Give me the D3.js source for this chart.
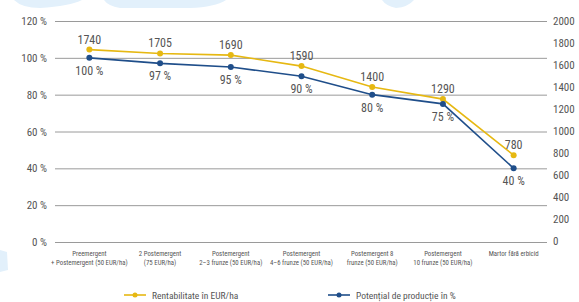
<!doctype html>
<html lang="ro">
  <head>
    <meta charset="utf-8">
    <title>Rentabilitate si potential de productie</title>
    <style>
      body { margin: 0; background: #fff; }
      svg text { font-family: "Liberation Sans Narrow", "Roboto Condensed", "Liberation Sans", Arial, sans-serif; fill: #555; }
    </style>
  </head>
  <body>
    <div id="chart"></div>
    <script src="https://cdn.jsdelivr.net/npm/d3@7"></script>
    <script>
      const categories = [
        ['Preemergent', '+ Postemergent (50 EUR/ha)'],
        ['2 Postemergent', '(75 EUR/ha)'],
        ['Postemergent', '2–3 frunze (50 EUR/ha)'],
        ['Postemergent', '4–6 frunze (50 EUR/ha)'],
        ['Postemergent 8', 'frunze (50 EUR/ha)'],
        ['Postemergent', '10 frunze (50 EUR/ha)'],
        ['Martor fără erbicid']
      ]
      const rentabilitate = [1740, 1705, 1690, 1590, 1400, 1290, 780]
      const potential = [100, 97, 95, 90, 80, 75, 40]
      const leftTicks = [0, 20, 40, 60, 80, 100, 120]
      const rightTicks = [0, 200, 400, 600, 800, 1000, 1200, 1400, 1600, 1800, 2000]
      const seriesNames = ['Rentabilitate în EUR/ha', 'Potențial de producție în %']

      const width = 579
      const height = 302
      const yellow = '#e6b812'
      const blue = '#1f4e8a'

      const svg = d3.select('#chart')
        .append('svg')
          .attr('width', width)
          .attr('height', height)

      // faint decorative swooshes in the background
      const deco = svg.append('g').attr('fill', '#e2f0fb')
      deco.append('path').attr('d', 'M14,0 L82,0 Q70,6 40,8 Q22,8 14,0 Z')
      deco.append('path').attr('d', 'M104,0 L226,0 Q215,7 190,8 L120,8 Q108,6 104,0 Z')
      deco.append('path').attr('d', 'M382,0 L414,0 Q408,7 396,8 Q386,6 382,0 Z')
      deco.append('path').attr('d', 'M0,250 L7,252 L8,270 L0,272 Z')

      const x = d3.scalePoint()
        .domain(d3.range(categories.length))
        .range([54, 549])
        .padding(0.5)

      const yLeft = d3.scaleLinear().domain([0, 120]).range([242, 21])
      const yRight = d3.scaleLinear().domain([0, 2000]).range([241, 21])

      // gridlines + left axis
      const leftAxis = d3.axisLeft(yLeft)
        .tickValues(leftTicks)
        .tickSize(-492)
        .tickPadding(8)
        .tickFormat(d => `${d} %`)

      svg.append('g')
        .attr('transform', 'translate(55,0)')
        .call(leftAxis)
        .call(g => g.select('.domain').remove())
        .call(g => g.selectAll('line').attr('stroke', '#9a9a9a'))
        .call(g => g.selectAll('text').attr('font-size', 11).attr('fill', '#555'))

      const rightAxis = d3.axisRight(yRight)
        .tickValues(rightTicks)
        .tickSize(0)
        .tickPadding(6)
        .tickFormat(d3.format('d'))

      svg.append('g')
        .attr('transform', 'translate(547,0)')
        .call(rightAxis)
        .call(g => g.select('.domain').remove())
        .call(g => g.selectAll('text').attr('font-size', 11).attr('fill', '#555'))

      // category labels
      const cat = svg.append('g')
        .selectAll('text')
        .data(categories)
        .join('text')
          .attr('x', (d, i) => x(i))
          .attr('y', 256)
          .attr('text-anchor', 'middle')
          .attr('font-size', 6.8)
          .attr('fill', '#666')
      cat.selectAll('tspan')
        .data(d => d)
        .join('tspan')
          .attr('x', function () { return d3.select(this.parentNode).attr('x') })
          .attr('dy', (d, i) => i === 0 ? 0 : 9)
          .text(d => d)

      function drawSeries(values, yScale, color, fmt, above) {
        const line = d3.line()
          .x((d, i) => x(i))
          .y(d => yScale(d))
        svg.append('path')
          .datum(values)
          .attr('fill', 'none')
          .attr('stroke', color)
          .attr('stroke-width', 1.6)
          .attr('d', line)
        svg.append('g')
          .selectAll('circle')
          .data(values)
          .join('circle')
            .attr('cx', (d, i) => x(i))
            .attr('cy', d => yScale(d))
            .attr('r', 3)
            .attr('fill', color)
        svg.append('g')
          .selectAll('text')
          .data(values)
          .join('text')
            .attr('x', (d, i) => x(i))
            .attr('y', d => yScale(d) + (above ? -6 : 17))
            .attr('text-anchor', 'middle')
            .attr('font-size', 12)
            .attr('fill', '#555')
            .text(fmt)
      }

      drawSeries(rentabilitate, yRight, yellow, d => d, true)
      drawSeries(potential, yLeft, blue, d => `${d} %`, false)

      // legend
      const legend = svg.append('g')
        .selectAll('g')
        .data(seriesNames)
        .join('g')
          .attr('transform', (d, i) => `translate(${i === 0 ? 124 : 328}, 295)`)
      legend.append('line')
        .attr('x1', 0).attr('x2', 22)
        .attr('stroke', (d, i) => i === 0 ? yellow : blue)
        .attr('stroke-width', 1.6)
      legend.append('circle')
        .attr('cx', 11).attr('r', 2.5)
        .attr('fill', (d, i) => i === 0 ? yellow : blue)
      legend.append('text')
        .attr('x', 28)
        .attr('y', 3.5)
        .attr('font-size', 9.5)
        .attr('fill', '#555')
        .text(d => d)
    </script>
  </body>
</html>
